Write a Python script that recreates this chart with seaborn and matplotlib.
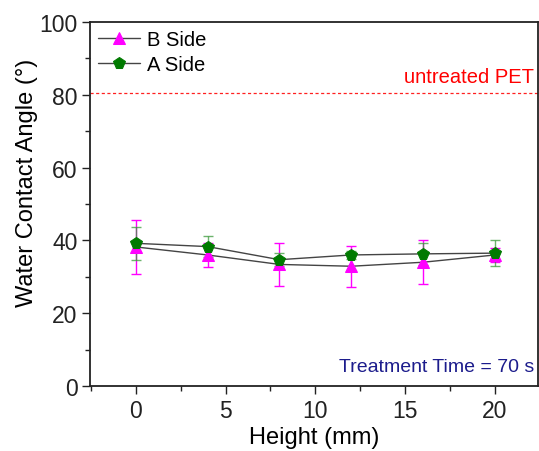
import matplotlib
matplotlib.use("Agg")
import matplotlib.pyplot as plt
import seaborn as sns
import numpy as np
import pandas as pd
from matplotlib.ticker import MultipleLocator

height_mm = [0, 4, 8, 12, 16, 20]
b_side = [38.2, 36.0, 33.4, 32.9, 34.0, 36.0]
b_err = [7.4, 3.3, 5.8, 5.6, 6.1, 1.8]
a_side = [39.2, 38.3, 34.7, 36.0, 36.3, 36.5]
a_err = [4.6, 2.8, 1.8, 1.2, 3.0, 3.6]
untreated = 80.5

sns.set_style("ticks")
plt.rcParams['font.family'] = ['Liberation Sans', 'DejaVu Sans']
plt.rcParams['text.color'] = 'black'
plt.rcParams['axes.labelcolor'] = 'black'
plt.rcParams['xtick.color'] = '#222222'
plt.rcParams['ytick.color'] = '#222222'

df = pd.DataFrame({
    "Height": height_mm * 2,
    "Angle": b_side + a_side,
    "Side": ["B Side"] * len(height_mm) + ["A Side"] * len(height_mm),
})

fig = plt.figure(figsize=(5.39, 4.52), dpi=100)
ax = fig.add_axes([90 / 539, 1 - 387 / 452, 448 / 539, (387 - 23) / 452])

# error bars
ax.errorbar(height_mm, b_side, yerr=b_err, fmt='none', ecolor='#FF00FF',
            elinewidth=1, capsize=3.5, capthick=1, zorder=2)
ax.errorbar(height_mm, a_side, yerr=a_err, fmt='none', ecolor='#3C9A3C',
            elinewidth=1, capsize=3.5, capthick=1, alpha=0.75, zorder=3)

sns.lineplot(data=df, x="Height", y="Angle", hue="Side", style="Side",
             palette={"B Side": "#444444", "A Side": "#444444"},
             markers={"B Side": "^", "A Side": "p"},
             dashes=False, linewidth=1, ax=ax, legend=False, zorder=4)
lines = ax.get_lines()
data_lines = [l for l in lines if len(l.get_xdata()) == len(height_mm)]
colors = {"B Side": "#FF00FF", "A Side": "#007A00"}
for l, side in zip(data_lines[-2:], ["B Side", "A Side"]):
    l.set_markerfacecolor(colors[side])
    l.set_markeredgecolor(colors[side])
    l.set_markersize(8.5)
    l.set_label(side)

ax.axhline(untreated, color='#FF2020', linestyle=(0, (2.5, 2)), linewidth=0.9, zorder=1)
ax.text(22.2, untreated + 2.0, "untreated PET", color='#FF0000', fontsize=14.5,
        ha='right', va='bottom')
ax.text(22.2, 3.0, "Treatment Time = 70 s", color='#1C1C8C', fontsize=14,
        ha='right', va='bottom')

ax.set_xlim(-2.55, 22.4)
ax.set_ylim(0, 100)
ax.xaxis.set_major_locator(MultipleLocator(5))
ax.xaxis.set_minor_locator(MultipleLocator(2.5))
ax.yaxis.set_major_locator(MultipleLocator(20))
ax.yaxis.set_minor_locator(MultipleLocator(10))
ax.tick_params(which='major', direction='out', length=6, width=1, labelsize=16.5, pad=3)
ax.tick_params(which='minor', direction='out', length=3.5, width=1)
for s in ax.spines.values():
    s.set_linewidth(1.3)
    s.set_color('#222222')

ax.set_xlabel("Height (mm)", fontsize=17, labelpad=3)
ax.set_ylabel("Water Contact Angle (°)", fontsize=17)
ax.yaxis.set_label_coords(-0.117, 0.56)

leg = ax.legend(handles=data_lines[-2:], labels=["B Side", "A Side"],
                loc='upper left', frameon=False, fontsize=14.5,
                handlelength=2.1, handletextpad=0.35, borderaxespad=0.0,
                labelspacing=0.3, bbox_to_anchor=(0.0, 1.0))

fig.savefig("out.png", dpi=100)
